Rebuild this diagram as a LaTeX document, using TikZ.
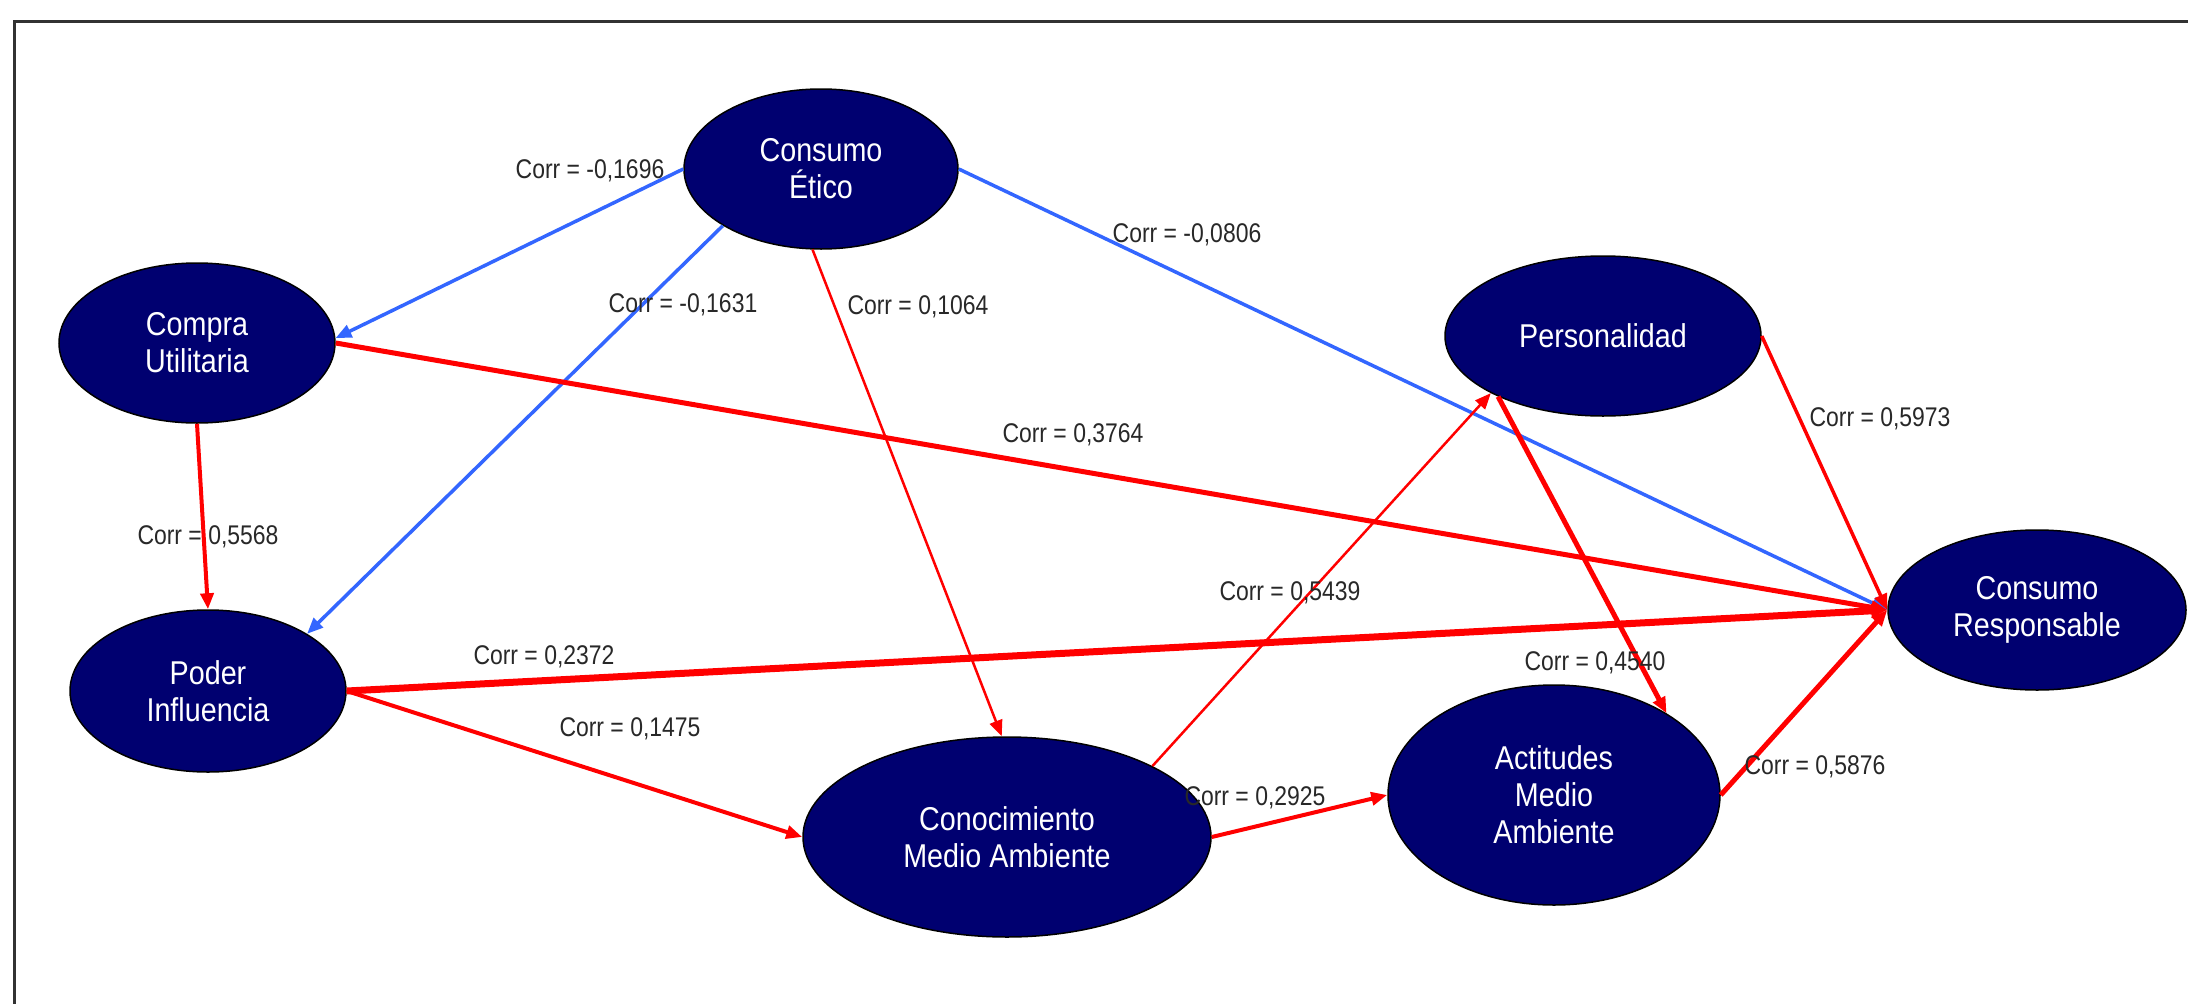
\documentclass[tikz,border=0pt]{standalone}
\usepackage{fontspec}
\setmainfont{Liberation Sans}
\newfontfamily\nodefont{Liberation Sans}[FakeStretch=0.87]
\newfontfamily\lblfont{Liberation Sans}[FakeStretch=0.85]
\usetikzlibrary{shapes.geometric,arrows.meta}
\definecolor{navyfill}{RGB}{0,0,112}
\definecolor{bluearrow}{RGB}{51,102,255}
\definecolor{redarrow}{RGB}{255,0,0}
\definecolor{lblgray}{RGB}{40,40,40}
\definecolor{framegray}{RGB}{50,50,50}
\begin{document}
\begin{tikzpicture}[x=1pt,y=-1pt,
  construct/.style={ellipse, fill=navyfill, draw=black, line width=1.5pt, inner sep=0pt,
    text=white, align=center, font=\nodefont\fontsize{33}{37}\selectfont},
  corr/.style={text=lblgray, font=\lblfont\fontsize{27}{30}\selectfont, inner sep=0pt},
  negarrow/.style={draw=bluearrow, line width=3.5pt, -{Triangle[length=16pt,width=13pt]}},
  posarrow/.style={draw=redarrow, -{Triangle[length=16pt,width=13pt]}}
]
\useasboundingbox (0,0) rectangle (2188,1004);
\fill[white] (0,0) rectangle (2188,1004);
\draw[framegray, line width=3pt] (14,1030) -- (14,21) -- (2220,21);

% constructs
\node[construct, minimum width=274pt, minimum height=160pt] (ce) at (821,169) {Consumo\\Ético};
\node[construct, minimum width=276pt, minimum height=160pt] (cu) at (197,343) {Compra\\Utilitaria};
\node[construct, minimum width=276pt, minimum height=162pt] (pi) at (208,691) {Poder\\Influencia};
\node[construct, minimum width=408pt, minimum height=200pt] (cma) at (1007,837) {Conocimiento\\Medio Ambiente};
\node[construct, minimum width=332pt, minimum height=220pt] (act) at (1554,795) {Actitudes\\Medio\\Ambiente};
\node[construct, minimum width=298pt, minimum height=160pt] (cr) at (2037,610) {Consumo\\Responsable};
\node[construct, minimum width=316pt, minimum height=160pt] (pers) at (1603,336) {Personalidad};

% connectors
\draw[negarrow] (ce.180) -- (cu.2);
\draw[negarrow] (ce.210) -- (pi.30);
\draw[posarrow, line width=2.5pt] (ce.264) -- (cma.93);
\draw[negarrow] (ce.0) -- (cr.west);
\draw[posarrow, line width=5pt] (cu.east) -- (cr.west);
\draw[posarrow, line width=4pt] (cu.south) -- (pi.north);
\draw[posarrow, line width=7pt] (pi.east) -- (cr.west);
\draw[posarrow, line width=4pt] (pi.east) -- (cma.west);
\draw[posarrow, line width=2.5pt] (cma.26) -- (pers.207);
\draw[posarrow, line width=5pt] (pers.210) -- (act.36);
\draw[posarrow, line width=3.5pt] (pers.east) -- (cr.west);
\draw[posarrow, line width=4pt] (cma.east) -- (act.west);
\draw[posarrow, line width=5pt] (act.east) -- (cr.west);

% labels
\node[corr] (l1) at (590,171) {Corr = -0,1696};
\node[corr] (l2) at (683,305) {Corr = -0,1631};
\node[corr] (l3) at (918,307) {Corr = 0,1064};
\node[corr] (l4) at (1187,235) {Corr = -0,0806};
\node[corr] (l5) at (1073,435) {Corr = 0,3764};
\node[corr] (l6) at (1880,419) {Corr = 0,5973};
\node[corr] (l7) at (208,537) {Corr = 0,5568};
\node[corr] (l8) at (544,657) {Corr = 0,2372};
\node[corr] (l9) at (630,729) {Corr = 0,1475};
\node[corr] (l10) at (1290,593) {Corr = 0,5439};
\node[corr] (l11) at (1595,663) {Corr = 0,4540};
\node[corr] (l12) at (1255,798) {Corr = 0,2925};
\node[corr] (l13) at (1815,767) {Corr = 0,5876};
\end{tikzpicture}
\end{document}
